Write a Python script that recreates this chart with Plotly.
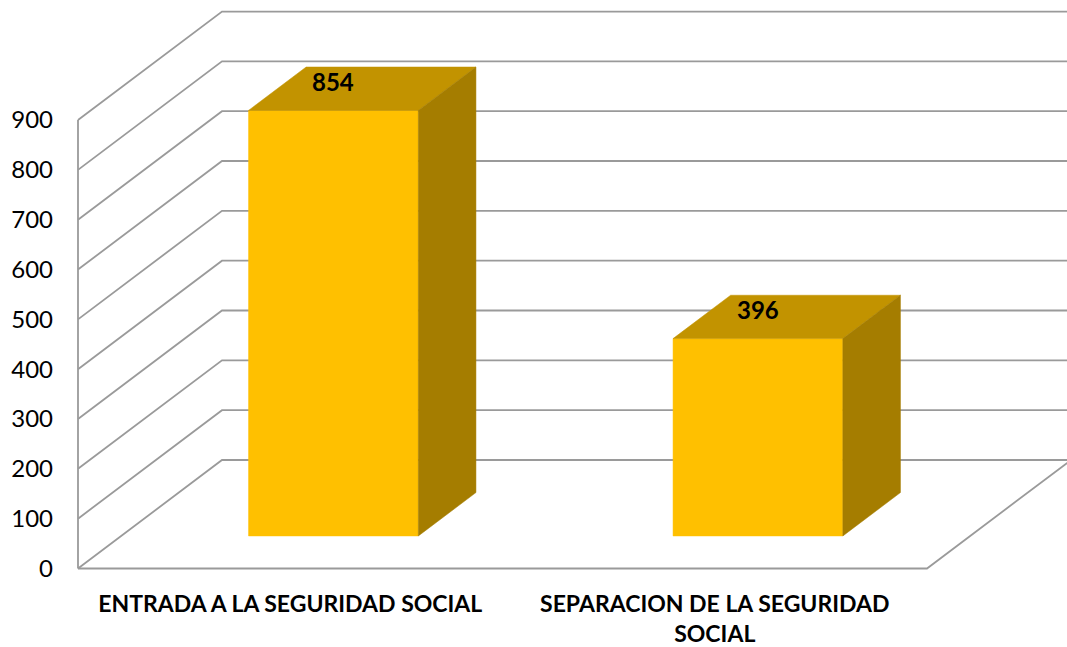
import plotly.graph_objects as go

# Data
categories = ["ENTRADA A LA SEGURIDAD SOCIAL", "SEPARACION DE LA SEGURIDAD<br>SOCIAL"]
values = [854, 396]
y_ticks = [0, 100, 200, 300, 400, 500, 600, 700, 800, 900]

# Oblique projection of the 3D box: x in category units, y in value units
W, H = 1067, 647
PX_PER_CAT = 424.5
PX_PER_VAL = 0.4983
DEPTH_DX = 144 / PX_PER_CAT          # full depth, horizontal shift (category units)
DEPTH_DY = 108.5 / PX_PER_VAL        # full depth, vertical shift (value units)
X0, X1 = -0.5, len(categories) - 0.5  # floor extent in category units
BAR_HALF = 0.2
BAR_D0, BAR_D1 = 0.3, 0.7
V_TOP = y_ticks[-1]

FRONT = "#FFC000"
TOP = "#C29300"
SIDE = "#A57D00"
GRID = "#9A9A9A"
FONT = "Lato"


def proj(x, v, d):
    return x + d * DEPTH_DX, v + d * DEPTH_DY


fig = go.Figure()


def add_line(pts, color=GRID, width=1.8):
    xs, ys = zip(*[proj(*p) for p in pts])
    fig.add_trace(go.Scatter(x=xs, y=ys, mode="lines", hoverinfo="skip",
                             line=dict(color=color, width=width), showlegend=False))


def add_face(pts, color):
    pp = [proj(*p) for p in pts] + [proj(*pts[0])]
    xs, ys = zip(*pp)
    fig.add_trace(go.Scatter(x=xs, y=ys, mode="lines", fill="toself", fillcolor=color,
                             line=dict(color=color, width=0.5), hoverinfo="skip",
                             showlegend=False))


# Walls: gridlines on side wall and back wall
for v in y_ticks:
    add_line([(X0, v, 0), (X0, v, 1), (X1 + 0.5, v, 1)])
# Front vertical edge of the side wall
add_line([(X0, 0, 0), (X0, V_TOP, 0)])
# Floor outline
add_line([(X0, 0, 0), (X1, 0, 0), (X1, 0, 1)])

# Bars: front, top and side faces
for i, v in enumerate(values):
    l, r = i - BAR_HALF, i + BAR_HALF
    add_face([(l, 0, BAR_D0), (r, 0, BAR_D0), (r, v, BAR_D0), (l, v, BAR_D0)], FRONT)
    add_face([(l, v, BAR_D0), (r, v, BAR_D0), (r, v, BAR_D1), (l, v, BAR_D1)], TOP)
    add_face([(r, 0, BAR_D0), (r, 0, BAR_D1), (r, v, BAR_D1), (r, v, BAR_D0)], SIDE)
    lx, ly = proj(i, v, BAR_D0)
    fig.add_annotation(x=lx, y=ly, text=f"<b>{v}</b>", showarrow=False,
                       yanchor="middle", yshift=29,
                       font=dict(family=FONT, size=24, color="black"))

L_MARGIN, B_MARGIN = 60, 69
front_x_px, front_y_px = 78, 568.5
x_lo = X0 + (L_MARGIN - front_x_px) / PX_PER_CAT
x_hi = X0 + (W - front_x_px) / PX_PER_CAT
y_lo = (front_y_px - (H - B_MARGIN)) / PX_PER_VAL
y_hi = front_y_px / PX_PER_VAL

fig.update_layout(
    width=W, height=H,
    margin=dict(l=L_MARGIN, r=0, t=0, b=B_MARGIN),
    paper_bgcolor="white", plot_bgcolor="white",
    xaxis=dict(range=[x_lo, x_hi], showgrid=False, zeroline=False, showline=False,
               tickmode="array", tickvals=list(range(len(categories))), ticktext=categories,
               ticks="", ticklabelstandoff=10,
               tickfont=dict(family=FONT, size=23, color="black", weight="bold"),
               fixedrange=True),
    yaxis=dict(range=[y_lo, y_hi], showgrid=False, zeroline=False, showline=False,
               tickmode="array", tickvals=y_ticks, ticks="", ticklabelstandoff=6,
               tickfont=dict(family=FONT, size=24, color="black"), fixedrange=True),
    showlegend=False,
)

fig.write_html("out.html")
